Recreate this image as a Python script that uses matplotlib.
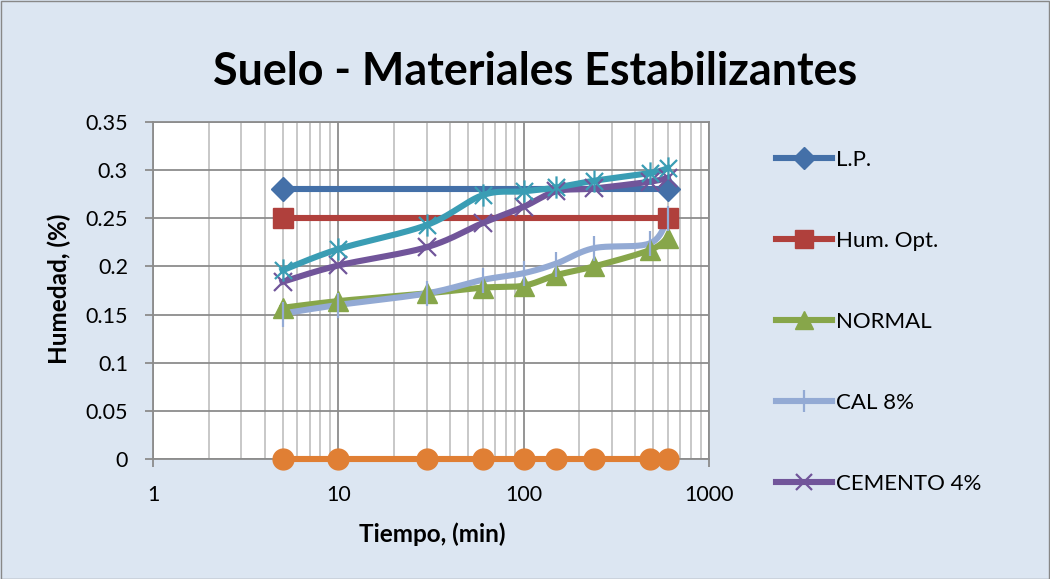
import numpy as np
import matplotlib
matplotlib.use("Agg")
import matplotlib.pyplot as plt
from matplotlib.path import Path
from matplotlib.lines import Line2D
from matplotlib.patches import Rectangle

plt.rcParams['font.family'] = ['Lato', 'DejaVu Sans']

# ---- data ----
tiempo = [5, 10, 30, 60, 100, 150, 240, 480, 600]
lp_x = [5, 600]
lp_y = [0.28, 0.28]
hum_x = [5, 600]
hum_y = [0.25, 0.25]
normal_y = [0.157, 0.164, 0.172, 0.178, 0.180, 0.191, 0.200, 0.217, 0.230]
cal_y = [0.151, 0.160, 0.172, 0.186, 0.193, 0.203, 0.219, 0.224, 0.250]
cemento_y = [0.184, 0.201, 0.220, 0.245, 0.262, 0.278, 0.281, 0.288, 0.292]
teal_y = [0.196, 0.218, 0.243, 0.274, 0.278, 0.282, 0.289, 0.297, 0.302]
orange_y = [0, 0, 0, 0, 0, 0, 0, 0, 0]

xticks = [1, 10, 100, 1000]
xticklabels = ['1', '10', '100', '1000']
yticks = [0, 0.05, 0.1, 0.15, 0.2, 0.25, 0.3, 0.35]
yticklabels = ['0', '0.05', '0.1', '0.15', '0.2', '0.25', '0.3', '0.35']

title = "Suelo - Materiales Estabilizantes"
xlabel = "Tiempo, (min)"
ylabel = "Humedad, (%)"
labels = ['L.P.', 'Hum. Opt.', 'NORMAL', 'CAL 8%', 'CEMENTO 4%']


def smooth(xs, ys, n=24):
    u = np.log10(np.asarray(xs, float))
    v = np.asarray(ys, float)
    P = np.column_stack([u, v])
    if len(P) < 3:
        return xs, ys
    Pe = np.vstack([P[0], P, P[-1]])
    out = []
    t = np.linspace(0, 1, n)[:, None]
    for i in range(len(P) - 1):
        p0, p1, p2, p3 = Pe[i], Pe[i + 1], Pe[i + 2], Pe[i + 3]
        c1 = p1 + (p2 - p0) / 6
        c2 = p2 - (p3 - p1) / 6
        seg = ((1 - t) ** 3) * p1 + 3 * ((1 - t) ** 2) * t * c1 + 3 * (1 - t) * t ** 2 * c2 + t ** 3 * p2
        out.append(seg if i == 0 else seg[1:])
    out = np.vstack(out)
    return 10 ** out[:, 0], out[:, 1]


# star marker (X + vertical line)
star = Path([(-1, -1), (1, 1), (-1, 1), (1, -1), (0, -1.3), (0, 1.3)],
            [Path.MOVETO, Path.LINETO, Path.MOVETO, Path.LINETO, Path.MOVETO, Path.LINETO])

W, H = 1050, 579
fig = plt.figure(figsize=(W / 100, H / 100), dpi=100)
fig.patch.set_facecolor('#DCE6F2')
fig.patches.append(Rectangle((0.5 / W, 0.5 / H), 1 - 1.5 / W, 1 - 1.5 / H, transform=fig.transFigure,
                             fill=False, edgecolor='#888888', linewidth=1.0))

ax = fig.add_axes([153 / W, 1 - 459 / H, (709 - 153) / W, (459 - 122) / H])
ax.set_facecolor('white')
ax.set_xscale('log')
ax.set_xlim(1, 1000)
ax.set_ylim(0, 0.35)
ax.set_yticks(yticks)
ax.set_yticklabels(yticklabels)
ax.set_xticks(xticks)
ax.set_xticklabels(xticklabels)
ax.grid(True, which='major', color='#8C8C8C', linewidth=1.3)
ax.grid(True, which='minor', axis='x', color='#BFBFBF', linewidth=1.2)
ax.set_axisbelow(True)
for s in ax.spines.values():
    s.set_color('#8C8C8C')
    s.set_linewidth(1.3)
ax.tick_params(axis='both', which='major', length=6, width=1.3, color='#8C8C8C',
               labelsize=15.5)
ax.tick_params(axis='y', pad=12)
ax.tick_params(axis='x', which='minor', length=0)
ax.tick_params(axis='x', pad=13)

lw = 4.4
# orange
ox, oy = smooth(tiempo, orange_y)
ax.plot(ox, oy, color='#E07F34', lw=lw, zorder=3, clip_on=False)
ax.plot(tiempo, orange_y, 'o', color='#E07F34', ms=15, zorder=4, clip_on=False)
# L.P.
ax.plot(lp_x, lp_y, color='#4470A8', lw=lw, zorder=3)
ax.plot(lp_x, lp_y, 'D', color='#4470A8', ms=12, zorder=4)
# Hum. Opt.
ax.plot(hum_x, hum_y, color='#B0403C', lw=lw, zorder=3)
ax.plot(hum_x, hum_y, 's', color='#B0403C', ms=14, zorder=4)
# NORMAL
nx, ny = smooth(tiempo, normal_y)
ax.plot(nx, ny, color='#87A64A', lw=lw, zorder=3)
ax.plot(tiempo, normal_y, '^', color='#87A64A', ms=14, zorder=4)
# CAL 8%
cx, cy = smooth(tiempo, cal_y)
ax.plot(cx, cy, color='#93AAD4', lw=lw, zorder=3)
ax.plot(tiempo, cal_y, '|', color='#93AAD4', ms=18, mew=1.6, zorder=4)
# CEMENTO 4%
mx, my = smooth(tiempo, cemento_y)
ax.plot(mx, my, color='#71559A', lw=lw, zorder=3)
ax.plot(tiempo, cemento_y, 'x', color='#71559A', ms=13, mew=1.6, zorder=4)
# teal
tx, ty = smooth(tiempo, teal_y)
ax.plot(tx, ty, color='#3A9DB4', lw=lw, zorder=3)
ax.plot(tiempo, teal_y, marker=star, ls='none', color='#3A9DB4', ms=16, mew=1.6, zorder=4)

fig.text(432 / W, 1 - 542 / H, xlabel, ha='center', va='baseline', fontsize=17.5, fontweight='bold')
fig.text(67 / W, 1 - 289 / H, ylabel, ha='center', va='baseline', rotation=90, fontsize=17.5,
         fontweight='bold', rotation_mode='anchor')
fig.text(535 / W, 1 - 85 / H, title, ha='center', va='baseline', fontsize=32.3, fontweight='bold')

handles = [
    Line2D([], [], color='#4470A8', lw=lw, marker='D', ms=11),
    Line2D([], [], color='#B0403C', lw=lw, marker='s', ms=13),
    Line2D([], [], color='#87A64A', lw=lw, marker='^', ms=13),
    Line2D([], [], color='#93AAD4', lw=lw, marker='|', ms=16, mew=1.6),
    Line2D([], [], color='#71559A', lw=lw, marker='x', ms=12, mew=1.6),
]
fig.legend(handles, labels, loc='upper left', bbox_to_anchor=(776 / W, 1 - 150 / H),
           frameon=False, fontsize=16, handlelength=2.5, handletextpad=0.18,
           labelspacing=2.74, borderaxespad=0, borderpad=0)

fig.savefig('out.png', dpi=100, facecolor=fig.get_facecolor())
